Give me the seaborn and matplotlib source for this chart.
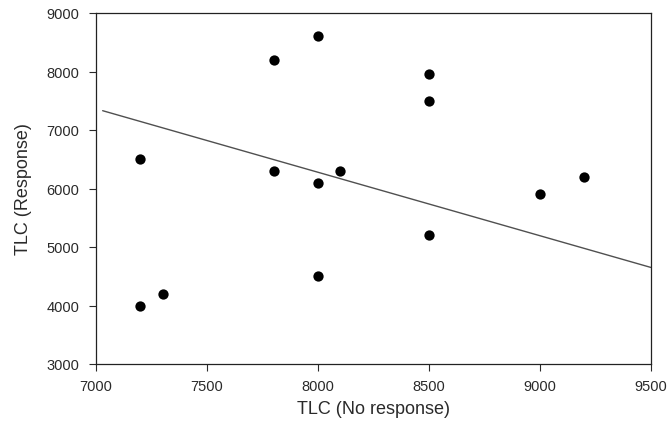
import matplotlib
matplotlib.use("Agg")
import matplotlib.pyplot as plt
import seaborn as sns
import pandas as pd

no_response = [7200, 7200, 7300, 7800, 7800, 8000, 8000, 8000, 8100, 8500, 8500, 8500, 9000, 9200]
response = [6500, 4000, 4200, 8200, 6300, 8600, 6100, 4500, 6300, 7950, 7500, 5200, 5900, 6200]
line_x = [7030, 9500]
line_y = [7330, 4650]
x_ticks = [7000, 7500, 8000, 8500, 9000, 9500]
y_ticks = [3000, 4000, 5000, 6000, 7000, 8000, 9000]

sns.set_style("ticks")
plt.rcParams['font.family'] = ['Liberation Sans', 'DejaVu Sans']

fig = plt.figure(figsize=(6.7, 4.27), dpi=100)
ax = fig.add_axes([96/670, 1-365/427, (651-96)/670, (365-14)/427])

df = pd.DataFrame({"x": no_response, "y": response})
sns.scatterplot(data=df, x="x", y="y", ax=ax, color="black", s=55, edgecolor="black", linewidth=0, zorder=3)
ln = pd.DataFrame({"x": line_x, "y": line_y})
sns.lineplot(data=ln, x="x", y="y", ax=ax, color="#505050", linewidth=1.0)

ax.set_xlim(7000, 9500)
ax.set_ylim(3000, 9000)
ax.set_xticks(x_ticks)
ax.set_yticks(y_ticks)
ax.tick_params(direction="out", length=5, width=0.8, labelsize=10.5, colors="#2a2a2a", pad=7)
ax.tick_params(axis="x", pad=6)
for s in ax.spines.values():
    s.set_linewidth(0.9)
    s.set_color("#222222")
ax.set_xlabel("TLC (No response)", fontsize=13, color="#2a2a2a", va="center")
ax.set_ylabel("TLC (Response)", fontsize=13, color="#2a2a2a", va="center")
ax.xaxis.set_label_coords(0.5, (365-410)/351)
ax.yaxis.set_label_coords((24-96)/555, 0.5)

fig.savefig("out.png", dpi=100)
